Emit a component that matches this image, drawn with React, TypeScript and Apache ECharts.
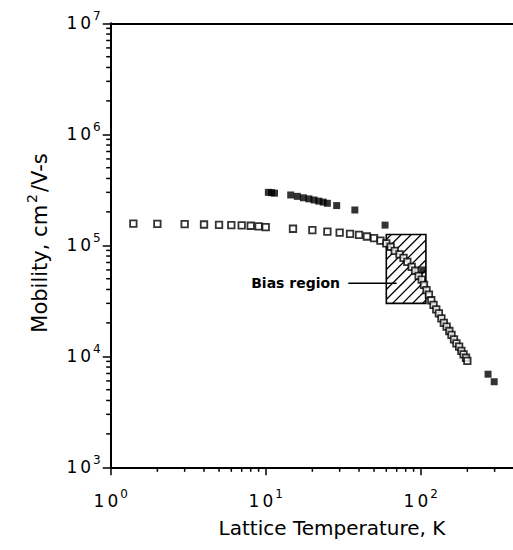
import React, { useEffect, useRef } from 'react';
import * as echarts from 'echarts';

const X_MIN = 1;
const X_MAX = 1000;
const Y_MIN = 1e3;
const Y_MAX = 1e7;

// open squares
const openT = [1.4, 2, 3, 4, 5, 6, 7, 8, 9, 10, 15, 20, 25, 30, 35, 40, 45, 50, 55, 60, 64, 68, 73, 77.5, 82, 87.5, 92, 97, 101.5, 105, 109, 113, 117, 121, 126, 131, 136, 141, 147, 153, 158, 164, 170, 177, 183, 189, 196, 200];
const openMobility = [1.57e5, 1.56e5, 1.55e5, 1.54e5, 1.53e5, 1.52e5, 1.51e5, 1.5e5, 1.48e5, 1.46e5, 1.41e5, 1.37e5, 1.33e5, 1.3e5, 1.27e5, 1.24e5, 1.2e5, 1.16e5, 1.1e5, 1.04e5, 9.7e4, 8.9e4, 8.3e4, 7.7e4, 7.1e4, 6.4e4, 5.9e4, 5.3e4, 4.9e4, 4.4e4, 3.95e4, 3.6e4, 3.2e4, 2.9e4, 2.65e4, 2.44e4, 2.2e4, 2.0e4, 1.85e4, 1.69e4, 1.56e4, 1.42e4, 1.31e4, 1.22e4, 1.12e4, 1.04e4, 9.7e3, 9.1e3];

// filled squares
const filledT = [10.4, 10.9, 11.4, 14.5, 16, 17.5, 19, 20.5, 22, 23.5, 25, 28.7, 37.6, 58.9, 103, 272, 298];
const filledMobility = [3.0e5, 2.98e5, 2.95e5, 2.84e5, 2.76e5, 2.68e5, 2.62e5, 2.56e5, 2.5e5, 2.45e5, 2.39e5, 2.28e5, 2.08e5, 1.52e5, 6.0e4, 6.9e3, 5.9e3];

// hatched bias region box: [Tmin, Tmax, Mmin, Mmax]
const biasBox = [60, 108, 3e4, 1.25e5];
const biasLabel = 'Bias region';
// [T text right end, T leader start, T leader end, mobility]
const biasLeader = [30.2, 34.1, 70, 4.55e4];

const xMinorTicks = [2, 3, 4, 5, 6, 7, 8, 9, 20, 30, 40, 50, 60, 70, 80, 90, 200, 300, 400, 500, 600, 700, 800, 900];
const yMinorTicks = [2e3, 3e3, 4e3, 5e3, 6e3, 7e3, 8e3, 9e3, 2e4, 3e4, 4e4, 5e4, 6e4, 7e4, 8e4, 9e4, 2e5, 3e5, 4e5, 5e5, 6e5, 7e5, 8e5, 9e5, 2e6, 3e6, 4e6, 5e6, 6e6, 7e6, 8e6, 9e6];

const xTitle = 'Lattice Temperature, K';
const yTitleMain = 'Mobility, cm';
const yTitleSup = '2';
const yTitleTail = '/V-s';

const FONT = '"DejaVu Sans", sans-serif';

const powLabel = (v: number) => `{one|1}{zero|0}{s|${Math.round(Math.log10(v))}}`;
const powRich = {
  one: { fontSize: 17, lineHeight: 26, fontFamily: FONT, color: '#000', padding: [0, 3, 0, 0] },
  zero: { fontSize: 17, lineHeight: 26, fontFamily: FONT, color: '#000', padding: [0, 2, 0, 0] },
  s: { fontSize: 12, lineHeight: 14, fontFamily: FONT, color: '#000', verticalAlign: 'top' },
};

export default function App() {
  const ref = useRef<HTMLDivElement>(null);
  useEffect(() => {
    if (!ref.current) return;
    const chart = echarts.init(ref.current, null, { renderer: 'svg' });
    const axisLine = { show: true, lineStyle: { color: '#000', width: 2 } };
    const option: any = {
      animation: false,
      backgroundColor: '#fff',
      grid: { left: 110.7, top: 23.3, width: 465, height: 444, containLabel: false, outerBoundsMode: 'none' },
      xAxis: [
        {
          type: 'log', logBase: 10, min: X_MIN, max: X_MAX,
          axisLine, splitLine: { show: false },
          axisTick: { show: true, inside: false, length: 8, lineStyle: { color: '#000', width: 1.5 } },
          axisLabel: { margin: 21, formatter: powLabel, rich: powRich, showMaxLabel: false },
        },
        {
          type: 'log', logBase: 10, min: X_MIN, max: X_MAX, position: 'top',
          axisLine, splitLine: { show: false }, axisTick: { show: false }, axisLabel: { show: false },
        },
      ],
      yAxis: {
        type: 'log', logBase: 10, min: Y_MIN, max: Y_MAX,
        axisLine, splitLine: { show: false },
        axisTick: { show: true, inside: false, length: 8, lineStyle: { color: '#000', width: 1.5 } },
        axisLabel: { margin: 10, formatter: powLabel, rich: powRich },
      },
      graphic: [
        {
          type: 'text', x: 332, y: 528,
          style: { text: xTitle, fontSize: 20, fontFamily: FONT, fill: '#000', align: 'center', verticalAlign: 'middle' },
        },
        {
          type: 'text', x: 40, y: 243, rotation: Math.PI / 2,
          style: {
            text: `{m|${yTitleMain}}{s|${yTitleSup}}{m|${yTitleTail}}`,
            align: 'center', verticalAlign: 'middle',
            rich: {
              m: { fontSize: 21, lineHeight: 30, fontFamily: FONT, fill: '#000' },
              s: { fontSize: 14, lineHeight: 14, fontFamily: FONT, fill: '#000', verticalAlign: 'top', padding: [0, 2, 0, 2] },
            },
          },
        },
      ],
      series: [
        {
          type: 'custom', z: 1, silent: true,
          encode: { x: [0, 1], y: [2, 3] },
          data: [biasBox],
          renderItem: (params: any, api: any) => {
            const tl = api.coord([api.value(0), api.value(3)]);
            const br = api.coord([api.value(1), api.value(2)]);
            const x0 = tl[0], y0 = tl[1], x1 = br[0], y1 = br[1];
            const children: any[] = [];
            const step = 10;
            for (let c = x0 + y0 + step / 2; c < x1 + y1; c += step) {
              const xa = Math.max(x0, c - y1);
              const xb = Math.min(x1, c - y0);
              if (xb <= xa) continue;
              children.push({ type: 'line', shape: { x1: xa, y1: c - xa, x2: xb, y2: c - xb }, style: { stroke: '#000', lineWidth: 1.3 } });
            }
            children.push({ type: 'rect', shape: { x: x0, y: y0, width: x1 - x0, height: y1 - y0 }, style: { fill: 'none', stroke: '#000', lineWidth: 1.6 } });
            return { type: 'group', children };
          },
        },
        {
          type: 'scatter', z: 3, symbol: 'rect', symbolSize: 6.5,
          itemStyle: { color: '#fff', borderColor: '#000', borderWidth: 1.8 },
          data: openT.map((t, i) => [t, openMobility[i]]),
        },
        {
          type: 'scatter', z: 4, symbol: 'rect', symbolSize: 7,
          itemStyle: { color: '#000' },
          data: filledT.map((t, i) => [t, filledMobility[i]]),
        },
        {
          type: 'custom', z: 5, silent: true,
          data: [biasLeader],
          encode: { x: [0, 1, 2], y: 3 },
          renderItem: (params: any, api: any) => {
            const pt = api.coord([api.value(0), api.value(3)]);
            const p1 = api.coord([api.value(1), api.value(3)]);
            const p2 = api.coord([api.value(2), api.value(3)]);
            return {
              type: 'group',
              children: [
                { type: 'text', style: { x: pt[0], y: pt[1], text: biasLabel, align: 'right', verticalAlign: 'middle', fontSize: 14, fontWeight: 'bold', fontFamily: FONT, fill: '#000' } },
                { type: 'line', shape: { x1: p1[0], y1: p1[1], x2: p2[0], y2: p2[1] }, style: { stroke: '#000', lineWidth: 1.5 } },
              ],
            };
          },
        },
        {
          type: 'custom', z: 6, silent: true,
          data: xMinorTicks.map((v) => [v, Y_MIN]),
          renderItem: (params: any, api: any) => {
            const p = api.coord([api.value(0), api.value(1)]);
            return { type: 'line', shape: { x1: p[0], y1: p[1], x2: p[0], y2: p[1] + 4.5 }, style: { stroke: '#000', lineWidth: 1.5 } };
          },
        },
        {
          type: 'custom', z: 6, silent: true,
          data: yMinorTicks.map((v) => [X_MIN, v]),
          renderItem: (params: any, api: any) => {
            const p = api.coord([api.value(0), api.value(1)]);
            return { type: 'line', shape: { x1: p[0], y1: p[1], x2: p[0] - 4.5, y2: p[1] }, style: { stroke: '#000', lineWidth: 1.5 } };
          },
        },
      ],
    };
    chart.setOption(option);
    return () => chart.dispose();
  }, []);
  return <div ref={ref} style={{ position: 'absolute', left: 0, top: 0, width: 513, height: 550 }} />;
}
